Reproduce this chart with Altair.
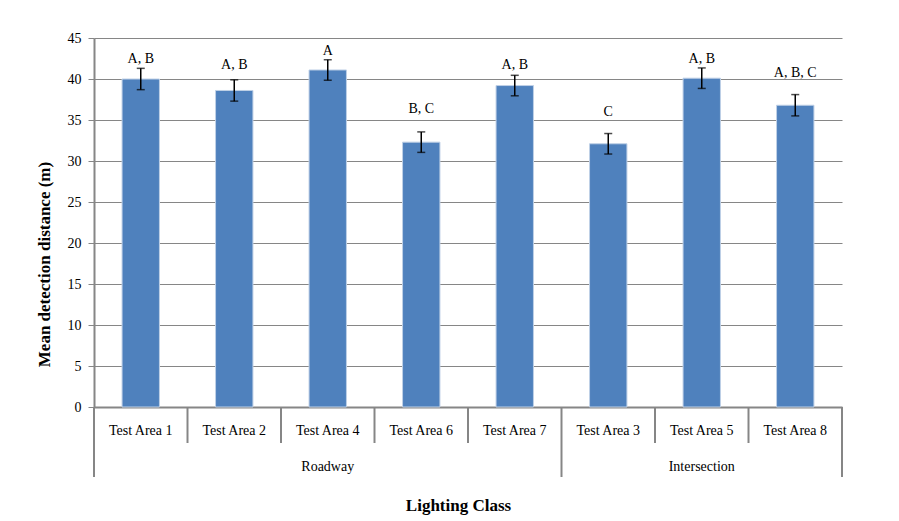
import altair as alt
import pandas as pd

categories = ["Test Area 1", "Test Area 2", "Test Area 4", "Test Area 6", "Test Area 7",
              "Test Area 3", "Test Area 5", "Test Area 8"]
groups = ["Roadway", "Roadway", "Roadway", "Roadway", "Roadway",
          "Intersection", "Intersection", "Intersection"]
means = [40.0, 38.6, 41.1, 32.3, 39.2, 32.1, 40.1, 36.8]
errors = [1.3, 1.3, 1.25, 1.25, 1.25, 1.25, 1.25, 1.3]
letters = ["A, B", "A, B", "A", "B, C", "A, B", "C", "A, B", "A, B, C"]
letter_pos = [42.4, 41.7, 43.45, 36.3, 41.7, 35.95, 42.4, 40.7]
y_ticks = [0, 5, 10, 15, 20, 25, 30, 35, 40, 45]

FONT = "Liberation Serif, Times New Roman, serif"
GREY = "#868686"
YTITLE = "Mean detection distance (m)"
XTITLE = "Lighting Class"

df = pd.DataFrame({"category": categories, "group": groups, "mean": means,
                   "err": errors, "letters": letters, "lpos": letter_pos})
df["lo"] = df["mean"] - df["err"]
df["hi"] = df["mean"] + df["err"]

# group structure for the hierarchical category axis
first_idx = [i for i, g in enumerate(groups) if i == 0 or groups[i - 1] != g]
short_df = pd.DataFrame({"category": [c for i, c in enumerate(categories) if i not in first_idx]})
long_df = pd.DataFrame({"category": [categories[i] for i in first_idx]})
end_df = pd.DataFrame({"category": [categories[-1]]})
grp_names, grp_mid = [], []
for k, s in enumerate(first_idx):
    e = first_idx[k + 1] if k + 1 < len(first_idx) else len(categories)
    grp_names.append(groups[s])
    grp_mid.append(categories[(s + e - 1) // 2] if (e - s) % 2 == 1 else categories[(s + e) // 2])
grp_df = pd.DataFrame({"category": grp_mid, "group": grp_names})

xscale = alt.Scale(paddingInner=0, paddingOuter=0)
yscale = alt.Scale(domain=[0, 45], nice=False)


def X(**kw):
    return alt.X("category:N", sort=categories, scale=xscale, title=XTITLE, **kw)


bars = alt.Chart(df).mark_bar(width=alt.RelativeBandSize(0.4), color="#4F81BD",
                              stroke="#BFD0E6", strokeWidth=1).encode(
    x=X(),
    y=alt.Y("mean:Q", scale=yscale, title=YTITLE),
)

err_rule = alt.Chart(df).mark_rule(color="black", strokeWidth=1.5).encode(
    x=X(), y=alt.Y("lo:Q", scale=yscale, title=YTITLE), y2="hi:Q")
cap_lo = alt.Chart(df).mark_tick(color="black", size=8, thickness=1.5).encode(
    x=X(), y=alt.Y("lo:Q", scale=yscale, title=YTITLE))
cap_hi = alt.Chart(df).mark_tick(color="black", size=8, thickness=1.5).encode(
    x=X(), y=alt.Y("hi:Q", scale=yscale, title=YTITLE))

labels = alt.Chart(df).mark_text(font=FONT, fontSize=14, color="black", baseline="middle").encode(
    x=X(), y=alt.Y("lpos:Q", scale=yscale, title=YTITLE), text="letters:N")

short_sep = alt.Chart(short_df).mark_rule(color=GREY, strokeWidth=2).encode(
    x=X(bandPosition=0), y=alt.value(369), y2=alt.value(405))
long_sep = alt.Chart(long_df).mark_rule(color=GREY, strokeWidth=2).encode(
    x=X(bandPosition=0), y=alt.value(369), y2=alt.value(439))
end_sep = alt.Chart(end_df).mark_rule(color=GREY, strokeWidth=2).encode(
    x=X(bandPosition=1), y=alt.value(369), y2=alt.value(439))

grp_text = alt.Chart(grp_df).mark_text(font=FONT, fontSize=14, color="black", baseline="middle").encode(
    x=X(), y=alt.value(429), text="group:N")

chart = alt.layer(bars, err_rule, cap_lo, cap_hi, labels, short_sep, long_sep, end_sep, grp_text).properties(
    width=748, height=369,
    autosize=alt.AutoSizeParams(type="none"),
    padding={"left": 86, "top": 30, "right": 40, "bottom": 112},
    background="white",
).configure_view(stroke=None).configure_axisX(
    ticks=False, domainColor=GREY, domainWidth=2, labelFont=FONT, labelFontSize=14,
    labelColor="black", labelAngle=0, labelBaseline="middle", labelPadding=23, grid=False,
    titleFont=FONT, titleFontSize=17, titleFontWeight="bold", titleColor="black",
    titleX=364, titleY=98, titleBaseline="middle",
).configure_axisY(
    values=y_ticks, grid=True, gridColor=GREY, gridWidth=1, tickColor=GREY, tickSize=6, tickWidth=1,
    domainColor=GREY, domainWidth=2, labelFont=FONT, labelFontSize=14, labelColor="black",
    labelPadding=7, titleFont=FONT, titleFontSize=17, titleFontWeight="bold", titleColor="black",
    titleX=-50, titleY=226, titleBaseline="middle",
)

chart.save("out.html", embed_options={"renderer": "svg", "actions": False})
